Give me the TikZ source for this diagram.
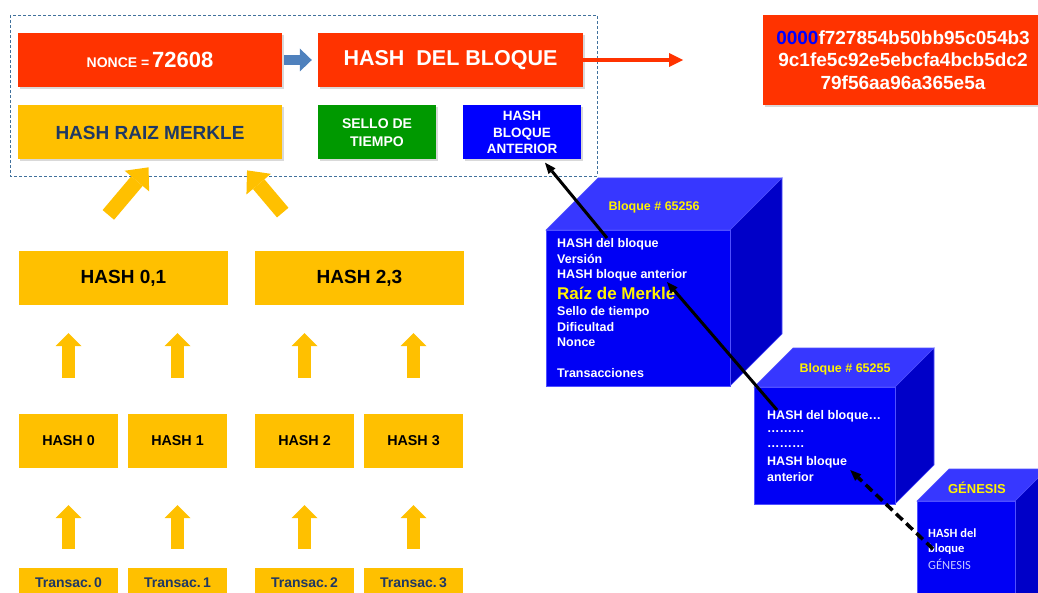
\documentclass[tikz,border=0pt]{standalone}
\usepackage{fontspec}
\setmainfont{Liberation Sans}
\newfontfamily\genfont{Carlito}
\usetikzlibrary{arrows.meta,shadows}

\definecolor{hashred}{RGB}{255,51,0}
\definecolor{merkleyellow}{RGB}{255,192,0}
\definecolor{navytext}{RGB}{31,56,100}
\definecolor{stampgreen}{RGB}{0,153,0}
\definecolor{prevblue}{RGB}{0,0,255}
\definecolor{steel}{RGB}{79,129,189}
\definecolor{framecol}{RGB}{65,113,156}
\definecolor{cubefront}{RGB}{0,0,245}
\definecolor{cubetop}{RGB}{55,55,255}
\definecolor{cubeside}{RGB}{0,0,200}
\definecolor{cubeedge}{RGB}{80,80,255}
\definecolor{genlav}{RGB}{200,200,255}

\tikzset{
  hdrbox/.style = {% boxes of the block header
    minimum width=#1, minimum height=54pt, inner sep=0pt, align=center,
    font=\bfseries, drop shadow={shadow xshift=2pt,shadow yshift=-2pt,opacity=.3}
  },
  hdrbox/.default = 264pt,
  treebox/.style = {% boxes of the merkle tree
    fill=merkleyellow, minimum width=#1, minimum height=54pt, inner sep=0pt
  },
  treebox/.default = 99pt,
  uparrow/.style = {merkleyellow, line width=13pt,
    -{Triangle[width=26pt,length=13pt,line width'=0pt]}},
  bigarrow/.style = {merkleyellow, line width=15pt,
    -{Triangle[width=32pt,length=18pt,line width'=0pt]}},
  chain/.style = {black, line width=3pt,
    -{Triangle[width=9pt,length=11pt,line width'=0pt]}},
  cubetxt/.style = {anchor=west, inner sep=0pt, text=white,
    font=\bfseries\fontsize{12.5}{14}\selectfont},
  cubetitle/.style = {inner sep=0pt, text=yellow,
    font=\bfseries\fontsize{12.5}{14}\selectfont}
}

\begin{document}
\begin{tikzpicture}[x=1pt,y=-1pt]
  \useasboundingbox (0,0) rectangle (1038,593);
  \clip (0,0) rectangle (1038,593);

  % block header
  \draw[framecol, line width=0.8pt, dash pattern=on 3pt off 2pt] (10,15) rectangle (597,176);
  \node[hdrbox, fill=hashred, text=white] (nonce) at (150,60)
    {{\fontsize{14}{16}\selectfont NONCE =} {\fontsize{22}{24}\selectfont 72608}};
  \node[hdrbox=265pt, fill=hashred, text=white,
    font=\bfseries\fontsize{21.5}{24}\selectfont] (hashbq) at (450.5,60) {HASH\ \ DEL BLOQUE};
  \node[hdrbox, fill=merkleyellow, text=navytext,
    font=\bfseries\fontsize{19}{21}\selectfont] (merkle) at (150,132.5) {HASH RAIZ MERKLE};
  \node[hdrbox=118pt, fill=stampgreen, text=white,
    font=\bfseries\fontsize{14}{18}\selectfont] (sello) at (377,132.5) {SELLO DE\\TIEMPO};
  \node[hdrbox=118pt, fill=prevblue, text=white,
    font=\bfseries\fontsize{13.5}{16.5}\selectfont] (hashant) at (522,132.5) {HASH\\BLOQUE\\ANTERIOR};
  \draw[steel, line width=10pt, -{Triangle[width=23pt,length=12pt,line width'=0pt]},
    shorten <=2pt, shorten >=6pt] (nonce) -- (hashbq);

  % resulting hash
  \node[hdrbox=280pt, minimum height=90pt, fill=hashred, text=white,
    font=\bfseries\fontsize{19}{22.5}\selectfont] (hexhash) at (903,60)
    {\textcolor{prevblue}{0000}f727854b50bb95c054b3\\9c1fe5c92e5ebcfa4bcb5dc2\\79f56aa96a365e5a};
  \coordinate (hashout) at (683,60);
  \draw[hashred, line width=4pt, -{Triangle[width=14pt,length=14pt,line width'=0pt]}] (hashbq) -- (hashout);

  % merkle tree
  \node[treebox=209pt, font=\bfseries\fontsize{19}{21}\selectfont] (h01) at (123.5,278) {HASH 0,1};
  \node[treebox=209pt, font=\bfseries\fontsize{19}{21}\selectfont] (h23) at (359.5,278) {HASH 2,3};
  \foreach \i/\x in {0/68.5, 1/177.5, 2/304.5, 3/413.5} {
    \node[treebox, font=\bfseries\fontsize{14.3}{16}\selectfont] (h\i) at (\x,441) {HASH \i};
    \node[treebox, minimum height=30pt, text=navytext,
      font=\bfseries\fontsize{14}{16}\selectfont] (t\i) at (\x,583) {Transac.\,\i};
    \draw[uparrow, shorten <=19pt, shorten >=37pt] (t\i) -- (h\i);
  }
  \foreach \i/\p in {0/h01, 1/h01, 2/h23, 3/h23}
    \draw[uparrow, shorten <=36pt, shorten >=28pt] (h\i.north) -- (h\i.north |- \p.south);
  \draw[bigarrow, shorten <=47pt, shorten >=10pt] ([xshift=-45.5pt]h01.north) -- ([xshift=5pt]merkle.south);
  \draw[bigarrow, shorten <=50pt, shorten >=14pt] ([xshift=-44.5pt]h23.north) -- ([xshift=88pt]merkle.south);

  % the chain of blocks
  \foreach \x/\y/\w/\h/\d in {546/230/184/156/52, 754/387/141/117/39, 917/501/98/120/32} {
    \draw[fill=cubetop, draw=cubeedge, line width=.6pt]
      (\x,\y) -- ++(\d,-\d) -- ++(\w,0) -- ++(-\d,\d) -- cycle;
    \draw[fill=cubeside, draw=cubeedge, line width=.6pt]
      (\x+\w,\y) -- ++(\d,-\d) -- ++(0,\h) -- ++(-\d,\d) -- cycle;
    \draw[fill=cubefront, draw=cubeedge, line width=.6pt] (\x,\y) rectangle ++(\w,\h);
  }
  \node[cubetitle] (c1title) at (654,207) {Bloque \# 65256};
  \foreach \n/\t/\yy in {c1hash/HASH del bloque/244, c1ver/Versión/259,
      c1prev/HASH bloque anterior/275, c1time/Sello de tiempo/312,
      c1diff/Dificultad/327, c1nonce/Nonce/342, c1tx/Transacciones/373}
    \node[cubetxt] (\n) at (557,\yy) {\t};
  \node[cubetxt, text=yellow, font=\bfseries\fontsize{17}{19}\selectfont] (c1root) at (557,293) {Raíz de Merkle};

  \node[cubetitle] (c2title) at (845,369) {Bloque \# 65255};
  \foreach \n/\t/\yy in {c2hash/HASH del bloque…/416, c2dotsa/………/432,
      c2dotsb/………/447, c2prev/HASH bloque/462, c2ant/anterior/477}
    \node[cubetxt] (\n) at (767,\yy) {\t};

  \node[cubetitle, font=\bfseries\fontsize{13}{15}\selectfont] (c3title) at (977,488) {GÉNESIS};
  \node[cubetxt, font=\genfont\bfseries\fontsize{12.5}{14}\selectfont] (c3hash) at (928,533) {HASH del};
  \node[cubetxt, font=\genfont\bfseries\fontsize{12.5}{14}\selectfont] (c3blq) at (928,549) {bloque};
  \node[cubetxt, text=genlav, font=\genfont\fontsize{12.5}{14}\selectfont] (c3gen) at (928,564) {GÉNESIS};

  \draw[chain] ([xshift=10pt]c2hash.north west) -- ([xshift=110pt,yshift=-1pt]c1prev.south west);
  \draw[chain] ([xshift=50pt]c1hash.north west) -- ([xshift=23pt,yshift=-3pt]hashant.south);
  \draw[chain, line width=3.5pt, dash pattern=on 9pt off 5pt] ([xshift=5pt]c3blq.west)
    -- ([xshift=3pt,yshift=-2pt]c2prev.south east);
\end{tikzpicture}
\end{document}
